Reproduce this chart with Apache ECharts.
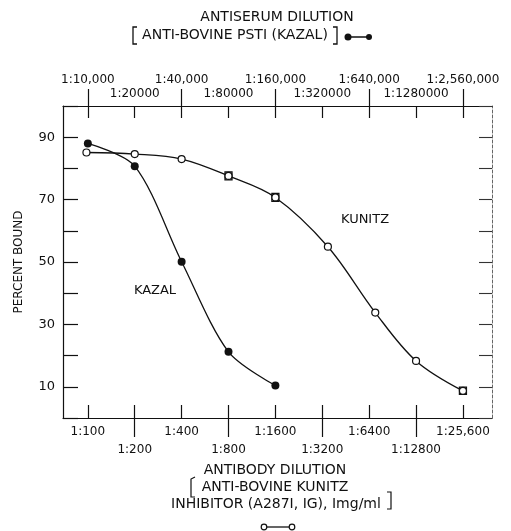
<!DOCTYPE html>
<html>
<head>
<meta charset="utf-8">
<script src="https://cdn.jsdelivr.net/npm/echarts@6/dist/echarts.min.js"></script>
<style>
html,body{margin:0;padding:0;background:#fff;}
#chart{width:511px;height:531px;}
</style>
</head>
<body>
<div id="chart"></div>
<script>
// dilution steps (each step doubles the dilution)
var steps = [0, 1, 2, 3, 4, 5, 6, 7, 8];
var evenSteps = [0, 2, 4, 6, 8];
var oddSteps = [1, 3, 5, 7];
var bottomLabels = ['1:100', '1:200', '1:400', '1:800', '1:1600', '1:3200', '1:6400', '1:12800', '1:25,600'];
var topLabels = ['1:10,000', '1:20000', '1:40,000', '1:80000', '1:160,000', '1:320000', '1:640,000', '1:1280000', '1:2,560,000'];

// Kazal antiserum (filled dots)
var kazalX = [0, 1, 2, 3, 4];
var kazalY = [88.0, 80.7, 50.1, 21.2, 10.4];

// Kunitz antibody (open dots)
var kunitzX = [-0.03, 1, 2, 3, 4, 5.12, 6.13, 7, 8];
var kunitzY = [85.1, 84.6, 83.0, 77.6, 70.7, 54.9, 33.8, 18.3, 8.7];

// error bars on Kunitz points
var errX = [3, 4, 8];
var errLow = [76.3, 69.4, 7.6];
var errHigh = [78.9, 72.0, 9.9];

var FONT = 'DejaVu Sans';
var chart = echarts.init(document.getElementById('chart'));

function zip(xs, ys) {
	var out = [];
	for (var i = 0; i < xs.length; i++) out.push([xs[i], ys[i]]);
	return out;
}
var errData = [];
for (var i = 0; i < errX.length; i++) errData.push([errX[i], errLow[i], errHigh[i]]);

var xMin = -0.53, xMax = 8.62;
var axisLineStyle = { color: '#111', width: 1.2 };

function labelRow(values, names, margin) {
	return {
		customValues: values, margin: margin, fontSize: 12, lineHeight: 14, color: '#111', fontFamily: FONT,
		showMinLabel: true, showMaxLabel: true, hideOverlap: false,
		formatter: function (v) { return names[Math.round(v)]; }
	};
}

var option = {
	backgroundColor: '#fff',
	animation: false,
	textStyle: { fontFamily: FONT, color: '#111' },
	grid: { left: 63, right: 19, top: 106, bottom: 113, containLabel: false, outerBoundsMode: 'none' },
	xAxis: [
		{ // bottom axis, first label row
			type: 'value', position: 'bottom', min: xMin, max: xMax,
			axisLine: { onZero: false, lineStyle: axisLineStyle },
			axisTick: { inside: true, length: 13, customValues: steps, lineStyle: axisLineStyle },
			axisLabel: labelRow(evenSteps, bottomLabels, 7),
			splitLine: { show: false }
		},
		{ // bottom separators, second label row
			type: 'value', position: 'bottom', min: xMin, max: xMax,
			axisLine: { show: false, onZero: false },
			axisTick: { inside: false, length: 19, customValues: oddSteps, lineStyle: axisLineStyle },
			axisLabel: labelRow(oddSteps, bottomLabels, 25),
			splitLine: { show: false }
		},
		{ // top axis, lower label row
			type: 'value', position: 'top', min: xMin, max: xMax,
			axisLine: { onZero: false, lineStyle: axisLineStyle },
			axisTick: { inside: true, length: 12, customValues: steps, lineStyle: axisLineStyle },
			axisLabel: labelRow(oddSteps, topLabels, 5),
			splitLine: { show: false }
		},
		{ // top separators, upper label row
			type: 'value', position: 'top', min: xMin, max: xMax,
			axisLine: { show: false, onZero: false },
			axisTick: { inside: false, length: 17, customValues: evenSteps, lineStyle: axisLineStyle },
			axisLabel: labelRow(evenSteps, topLabels, 19),
			splitLine: { show: false }
		}
	],
	yAxis: [
		{
			type: 'value', position: 'left', min: 0, max: 100, interval: 10,
			name: 'PERCENT BOUND', nameLocation: 'middle', nameGap: 38, nameRotate: 90,
			nameTextStyle: { fontSize: 12, fontFamily: FONT, color: '#111' },
			axisLine: { show: true, onZero: false, lineStyle: axisLineStyle },
			axisTick: { inside: true, length: 15, lineStyle: axisLineStyle },
			axisLabel: {
				margin: 8, fontSize: 13, color: '#111', fontFamily: FONT,
				formatter: function (v) { return v % 20 === 10 ? String(v) : ''; }
			},
			splitLine: { show: false }
		},
		{
			type: 'value', position: 'right', min: 0, max: 100, interval: 10,
			axisLine: { show: true, onZero: false, lineStyle: { color: '#666', width: 1, type: [3, 2] } },
			axisTick: { inside: true, length: 13, lineStyle: { color: '#333', width: 1.1 } },
			axisLabel: { show: false },
			splitLine: { show: false }
		}
	],
	series: [
		{
			name: 'Kunitz error', type: 'custom', xAxisIndex: 0, yAxisIndex: 0, z: 2,
			data: errData,
			renderItem: function (params, api) {
				var hi = api.coord([api.value(0), api.value(2)]);
				var lo = api.coord([api.value(0), api.value(1)]);
				return {
					type: 'rect',
					shape: { x: hi[0] - 3.5, y: hi[1], width: 7, height: lo[1] - hi[1] },
					style: { fill: '#fff', stroke: '#111', lineWidth: 1.3 }
				};
			}
		},
		{
			name: 'Kazal', type: 'line', xAxisIndex: 0, yAxisIndex: 0, z: 3,
			data: zip(kazalX, kazalY),
			smooth: 0.3,
			symbol: 'circle', symbolSize: 8,
			itemStyle: { color: '#111' },
			lineStyle: { color: '#111', width: 1.3 }
		},
		{
			name: 'Kunitz', type: 'line', xAxisIndex: 0, yAxisIndex: 0, z: 4,
			data: zip(kunitzX, kunitzY),
			smooth: 0.35,
			symbol: 'circle', symbolSize: 7,
			itemStyle: { color: '#fff', borderColor: '#111', borderWidth: 1.2 },
			lineStyle: { color: '#111', width: 1.3 }
		}
	],
	graphic: [
		{ type: 'text', x: 277, y: 17, style: { text: 'ANTISERUM DILUTION', font: '14px "DejaVu Sans"', fill: '#111', align: 'center', verticalAlign: 'middle' } },
		{ type: 'text', x: 235, y: 35, style: { text: 'ANTI-BOVINE PSTI (KAZAL)', font: '14px "DejaVu Sans"', fill: '#111', align: 'center', verticalAlign: 'middle' } },
		{ type: 'polyline', shape: { points: [[137, 27], [133, 27], [133, 44], [137, 44]] }, style: { stroke: '#111', lineWidth: 1.3, fill: null } },
		{ type: 'polyline', shape: { points: [[333, 27], [337, 27], [337, 44], [333, 44]] }, style: { stroke: '#111', lineWidth: 1.3, fill: null } },
		{ type: 'line', shape: { x1: 348, y1: 37, x2: 369, y2: 37 }, style: { stroke: '#111', lineWidth: 1.5 } },
		{ type: 'circle', shape: { cx: 348, cy: 37, r: 3.5 }, style: { fill: '#111' } },
		{ type: 'circle', shape: { cx: 369, cy: 37, r: 3 }, style: { fill: '#111' } },

		{ type: 'text', x: 155, y: 291, style: { text: 'KAZAL', font: '13px "DejaVu Sans"', fill: '#111', align: 'center', verticalAlign: 'middle' } },
		{ type: 'text', x: 365, y: 220, style: { text: 'KUNITZ', font: '13px "DejaVu Sans"', fill: '#111', align: 'center', verticalAlign: 'middle' } },

		{ type: 'text', x: 275, y: 470, style: { text: 'ANTIBODY DILUTION', font: '14px "DejaVu Sans"', fill: '#111', align: 'center', verticalAlign: 'middle' } },
		{ type: 'text', x: 275, y: 487, style: { text: 'ANTI-BOVINE KUNITZ', font: '14px "DejaVu Sans"', fill: '#111', align: 'center', verticalAlign: 'middle' } },
		{ type: 'text', x: 276, y: 504, style: { text: 'INHIBITOR (A287I, IG), Img/ml', font: '14px "DejaVu Sans"', fill: '#111', align: 'center', verticalAlign: 'middle' } },
		{ type: 'polyline', shape: { points: [[195, 477], [191, 479], [191, 497], [195, 497]] }, style: { stroke: '#111', lineWidth: 1.2, fill: null } },
		{ type: 'polyline', shape: { points: [[387, 492], [391, 492], [391, 509], [387, 509]] }, style: { stroke: '#111', lineWidth: 1.2, fill: null } },
		{ type: 'line', shape: { x1: 267, y1: 527, x2: 289, y2: 527 }, style: { stroke: '#111', lineWidth: 1.3 } },
		{ type: 'circle', shape: { cx: 264, cy: 527, r: 2.8 }, style: { fill: '#fff', stroke: '#111', lineWidth: 1.2 } },
		{ type: 'circle', shape: { cx: 292, cy: 527, r: 2.8 }, style: { fill: '#fff', stroke: '#111', lineWidth: 1.2 } }
	]
};

chart.setOption(option);
</script>
</body>
</html>
